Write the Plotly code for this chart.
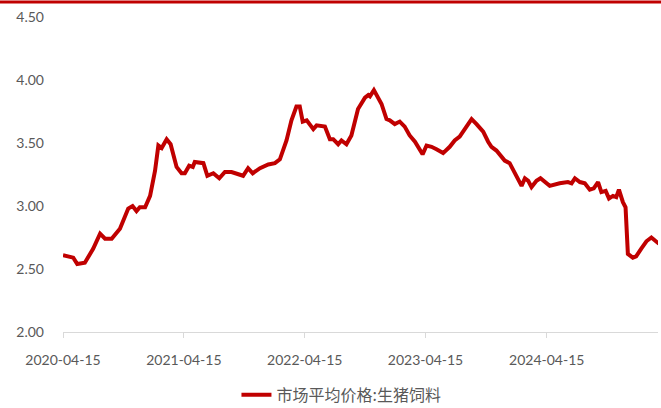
import plotly.graph_objects as go

# 市场平均价格:生猪饲料 (元/公斤)
dates = [
    "2020-04-15", "2020-05-16", "2020-05-28", "2020-06-20", "2020-07-15", "2020-08-05",
    "2020-08-20", "2020-09-09", "2020-10-04", "2020-10-29", "2020-11-11", "2020-11-23",
    "2020-12-03", "2020-12-19", "2021-01-03", "2021-01-18", "2021-01-28", "2021-02-07",
    "2021-02-22", "2021-03-06", "2021-03-24", "2021-04-08", "2021-04-18", "2021-05-01",
    "2021-05-12", "2021-05-18", "2021-06-13", "2021-06-25", "2021-07-13", "2021-07-31",
    "2021-08-17", "2021-09-06", "2021-10-11", "2021-10-26", "2021-11-09", "2021-12-01",
    "2021-12-26", "2022-01-15", "2022-01-30", "2022-02-19", "2022-03-06", "2022-03-21",
    "2022-03-31", "2022-04-09", "2022-04-21", "2022-05-11", "2022-05-21", "2022-06-15",
    "2022-06-30", "2022-07-10", "2022-07-25", "2022-08-04", "2022-08-19", "2022-09-03",
    "2022-09-23", "2022-10-14", "2022-10-24", "2022-10-29", "2022-11-10", "2022-11-23",
    "2022-12-03", "2022-12-18", "2022-12-28", "2023-01-12", "2023-01-27", "2023-02-11",
    "2023-02-26", "2023-03-14", "2023-03-24", "2023-04-06", "2023-04-18", "2023-05-03",
    "2023-05-18", "2023-06-07", "2023-06-27", "2023-07-12", "2023-07-27", "2023-08-11",
    "2023-09-01", "2023-09-16", "2023-10-06", "2023-10-21", "2023-10-31", "2023-11-15",
    "2023-11-30", "2023-12-10", "2023-12-25", "2024-01-15", "2024-01-30", "2024-02-09",
    "2024-02-19", "2024-02-29", "2024-03-15", "2024-03-27", "2024-04-09", "2024-04-24",
    "2024-05-24", "2024-06-18", "2024-06-29", "2024-07-09", "2024-07-24", "2024-08-08",
    "2024-08-23", "2024-09-04", "2024-09-17", "2024-09-27", "2024-10-10", "2024-10-20",
    "2024-11-01", "2024-11-11", "2024-11-19", "2024-12-01", "2024-12-09", "2024-12-16",
    "2024-12-31", "2025-01-10", "2025-01-25", "2025-02-10", "2025-02-25", "2025-03-10",
    "2025-03-20",
]
prices = [
    2.61, 2.59, 2.54, 2.55, 2.66, 2.78,
    2.74, 2.74, 2.82, 2.98, 3.00, 2.96,
    2.99, 2.99, 3.08, 3.28, 3.48, 3.46,
    3.53, 3.49, 3.31, 3.26, 3.26, 3.32,
    3.31, 3.35, 3.34, 3.24, 3.26, 3.22,
    3.27, 3.27, 3.24, 3.30, 3.26, 3.30,
    3.33, 3.34, 3.37, 3.52, 3.68, 3.79,
    3.79, 3.67, 3.68, 3.61, 3.64, 3.63,
    3.53, 3.53, 3.49, 3.52, 3.49, 3.56,
    3.77, 3.86, 3.88, 3.87, 3.92, 3.85,
    3.81, 3.69, 3.68, 3.65, 3.67, 3.63,
    3.56, 3.51, 3.47, 3.41, 3.48, 3.47,
    3.45, 3.42, 3.47, 3.52, 3.55, 3.61,
    3.69, 3.65, 3.59, 3.51, 3.47, 3.44,
    3.39, 3.36, 3.34, 3.24, 3.16, 3.22,
    3.20, 3.15, 3.20, 3.22, 3.19, 3.16,
    3.18, 3.19, 3.18, 3.22, 3.19, 3.18,
    3.13, 3.14, 3.19, 3.11, 3.12, 3.06,
    3.08, 3.07, 3.13, 3.03, 2.99, 2.62,
    2.59, 2.60, 2.66, 2.72, 2.75, 2.72,
    2.70,
]
series_name = "市场平均价格:生猪饲料"

x_ticks = ["2020-04-15", "2021-04-15", "2022-04-15", "2023-04-15", "2024-04-15"]
y_ticks = [2.0, 2.5, 3.0, 3.5, 4.0, 4.5]
y_labels = ["2.00", "2.50", "3.00", "3.50", "4.00", "4.50"]

red = "#C00000"
grey_text = "#595959"

fig = go.Figure()
fig.add_trace(go.Scatter(
    x=dates, y=prices, mode="lines", name=series_name,
    line=dict(color=red, width=4, shape="linear"),
))

fig.update_layout(
    width=661, height=408,
    margin=dict(l=63, r=3, t=17, b=76, autoexpand=False),
    paper_bgcolor="white", plot_bgcolor="white",
    font=dict(family="Lato, 'Noto Sans CJK SC', sans-serif", size=14, color=grey_text),
    showlegend=True,
    legend=dict(
        orientation="h", x=0.468, xanchor="center",
        yref="container", y=0.032, yanchor="middle",
        font=dict(family="'Noto Sans CJK SC', sans-serif", size=16, color=grey_text),
        bgcolor="rgba(0,0,0,0)",
    ),
    xaxis=dict(
        type="date", range=["2020-04-15", "2025-03-17"],
        tickvals=x_ticks, ticktext=x_ticks,
        showgrid=False, zeroline=False, automargin=False,
        showline=True, linecolor="#D9D9D9", linewidth=1,
        ticks="outside", ticklen=5, tickcolor="#D9D9D9",
        ticklabelstandoff=10,
    ),
    yaxis=dict(
        range=[2.0, 4.5], tickvals=y_ticks, ticktext=y_labels,
        showgrid=False, zeroline=False, showline=False, automargin=False,
        ticklabelstandoff=18,
    ),
)
# red rule across the top of the page
fig.add_shape(type="line", xref="paper", yref="paper",
              x0=-63 / 595, x1=1 + 3 / 595, y0=1 + 15 / 315, y1=1 + 15 / 315,
              line=dict(color=red, width=3))

fig.write_html("out.html")
